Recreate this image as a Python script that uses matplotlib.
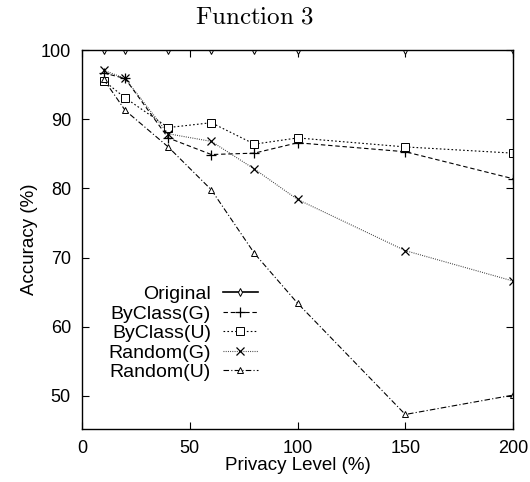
import numpy as np
import matplotlib.pyplot as plt

plt.rcParams['font.family'] = ['Liberation Sans', 'DejaVu Sans']
plt.rcParams['mathtext.fontset'] = 'cm'

x = [10, 20, 40, 60, 80, 100, 150, 200]
original = [100, 100, 100, 100, 100, 100, 100, 100]
byclass_g = [96.7, 95.9, 87.3, 84.9, 85.1, 86.6, 85.3, 81.4]
byclass_u = [95.6, 93.1, 88.8, 89.5, 86.4, 87.3, 86.0, 85.1]
random_g = [97.1, 95.9, 87.9, 86.8, 82.8, 78.4, 71.0, 66.6]
random_u = [95.8, 91.3, 86.0, 79.8, 70.6, 63.4, 47.3, 50.1]

fig = plt.figure(figsize=(5.3, 4.82), dpi=100)
ax = fig.add_axes([0.1547, 0.110, 0.8133, 0.786])

lw = 0.8
ax.plot(x, original, color='black', lw=1.2, ls='-', marker='d', ms=4,
        mfc='white', mec='black', mew=0.7, label='Original')
ax.plot(x, byclass_g, color='black', lw=lw, ls=(0, (4, 2.5)), marker='+', ms=7,
        mew=0.9, label='ByClass(G)')
ax.plot(x, byclass_u, color='black', lw=lw, ls=(0, (1.5, 2)), marker='s', ms=6,
        mfc='white', mec='black', mew=0.7, label='ByClass(U)')
ax.plot(x, random_g, color='#333333', lw=lw, ls=(0, (0.8, 1.2)), marker='x', ms=6,
        mew=0.9, mec='black', label='Random(G)')
ax.plot(x, random_u, color='black', lw=lw, ls=(0, (5, 2, 1, 2)), marker='^', ms=5,
        mfc='white', mec='black', mew=0.7, label='Random(U)')

ax.set_xlim(0, 200)
ax.set_ylim(45.2, 100)
ax.set_xticks([0, 50, 100, 150, 200])
ax.set_yticks([50, 60, 70, 80, 90, 100])
ax.tick_params(direction='in', top=True, right=True, length=5, labelsize=13)
ax.tick_params(axis='x', pad=8)
ax.tick_params(axis='y', pad=8)
for s in ax.spines.values():
    s.set_linewidth(1.0)

ax.set_xlabel('Privacy Level (%)', fontsize=13.5, labelpad=0)
ax.set_ylabel('Accuracy (%)', fontsize=13.5, labelpad=2)
ax.set_title(r'$\mathrm{Function\ 3}$', fontsize=18, pad=19, x=0.40)

ax.legend(loc='lower left', bbox_to_anchor=(0.03, 0.09), frameon=False,
          markerfirst=False, fontsize=14, handlelength=1.8, labelspacing=0.1,
          handletextpad=0.6, borderpad=0.2)

fig.savefig('out.png', dpi=100)
